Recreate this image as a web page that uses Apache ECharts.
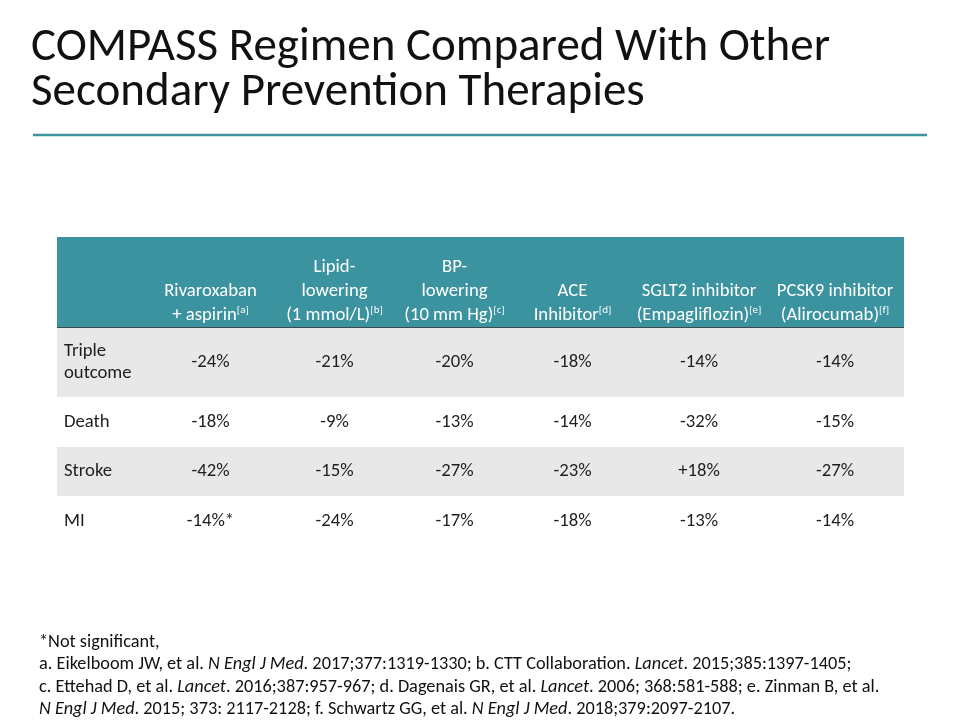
<!DOCTYPE html>
<html><head><meta charset="utf-8">
<script src="https://cdn.jsdelivr.net/npm/echarts@6/dist/echarts.min.js"></script>
<style>html,body{margin:0;padding:0;background:#fff}#c{width:960px;height:720px}</style>
</head><body><div id="c"></div>
<script>
// ---- data ----
const titleLines = ['COMPASS Regimen Compared With Other', 'Secondary Prevention Therapies'];
const therapyHeaders = [
  ['Rivaroxaban', '+ aspirin'],
  ['Lipid-', 'lowering', '(1 mmol/L)'],
  ['BP-', 'lowering', '(10 mm Hg)'],
  ['ACE', 'Inhibitor'],
  ['SGLT2 inhibitor', '(Empagliflozin)'],
  ['PCSK9 inhibitor', '(Alirocumab)']
];
const refLetters = ['a', 'b', 'c', 'd', 'e', 'f'];
const outcomes = ['Triple\noutcome', 'Death', 'Stroke', 'MI'];
const rivaroxaban = [-24, -18, -42, -14];
const lipidLowering = [-21, -9, -15, -24];
const bpLowering = [-20, -13, -27, -17];
const aceInhibitor = [-18, -14, -23, -18];
const sglt2Inhibitor = [-14, -32, 18, -13];
const pcsk9Inhibitor = [-14, -15, -27, -14];
const notSignificant = [[0, 3]]; // [therapy index, outcome index]
const footnoteLines = [
  '*Not significant,',
  'a. Eikelboom JW, et al. {i|N Engl J Med}. 2017;377:1319-1330; b. CTT Collaboration. {i|Lancet}. 2015;385:1397-1405;',
  'c. Ettehad D, et al. {i|Lancet}. 2016;387:957-967; d. Dagenais GR, et al. {i|Lancet}. 2006; 368:581-588; e. Zinman B, et al.',
  '{i|N Engl J Med}. 2015; 373: 2117-2128; f. Schwartz GG, et al. {i|N Engl J Med}. 2018;379:2097-2107.'
];

// ---- layout / style ----
const FONT = 'Carlito, Calibri, Lato, sans-serif';
const TEAL = '#3A939F';
const colWidths = [91, 125, 123, 117, 119, 134, 138];
const rowHeights = [91, 69, 50, 49, 50];
const colEdges = [0]; colWidths.forEach(w => colEdges.push(colEdges[colEdges.length - 1] + w));
const rowEdges = [0]; rowHeights.forEach(h => rowEdges.push(rowEdges[rowEdges.length - 1] + h));
const totalW = colEdges[colEdges.length - 1];
const totalH = rowEdges[rowEdges.length - 1];

const seriesValues = [rivaroxaban, lipidLowering, bpLowering, aceInhibitor, sglt2Inhibitor, pcsk9Inhibitor];
const fmt = (v, ns) => (v > 0 ? '+' : '') + v + '%' + (ns ? '*' : '');

// build cells: value = [x0, y0, x1, y1], plus kind/text
const cells = [];
cells.push({ value: [colEdges[0], rowEdges[0], colEdges[1], rowEdges[1]], kind: 'corner', text: '' });
therapyHeaders.forEach((lines, i) => {
  const txt = lines.map((l, k) => '{n|' + l + '}' + (k === lines.length - 1 ? '{s|[' + refLetters[i] + ']}' : '')).join('\n');
  cells.push({ value: [colEdges[i + 1], rowEdges[0], colEdges[i + 2], rowEdges[1]], kind: 'head', text: txt });
});
outcomes.forEach((o, r) => {
  const shade = r % 2 === 0;
  cells.push({ value: [colEdges[0], rowEdges[r + 1], colEdges[1], rowEdges[r + 2]], kind: 'label', shade, text: o });
  seriesValues.forEach((vals, c) => {
    const ns = notSignificant.some(p => p[0] === c && p[1] === r);
    cells.push({ value: [colEdges[c + 1], rowEdges[r + 1], colEdges[c + 2], rowEdges[r + 2]], kind: 'val', shade, text: fmt(vals[r], ns) });
  });
});

const chart = echarts.init(document.getElementById('c'), null, { renderer: 'canvas' });

function renderItem(params, api) {
  const cell = cells[params.dataIndex];
  const p0 = api.coord([api.value(0), api.value(1)]);
  const p1 = api.coord([api.value(2), api.value(3)]);
  const x = p0[0], y = p0[1], w = p1[0] - p0[0], h = p1[1] - p0[1];
  const children = [];
  if (cell.kind === 'corner' || cell.kind === 'head') {
    children.push({ type: 'rect', shape: { x, y, width: w, height: h }, style: { fill: TEAL } });
    children.push({ type: 'line', shape: { x1: x, y1: y + h, x2: x + w, y2: y + h }, style: { stroke: '#3f4a4c', lineWidth: 2 } });
    if (cell.kind === 'head') {
      children.push({
        type: 'text',
        style: {
          text: cell.text, x: x + w / 2, y: y + h - 1, align: 'center', verticalAlign: 'bottom',
          rich: {
            n: { fontFamily: FONT, fontSize: 18.7, lineHeight: 24, fill: '#ffffff' },
            s: { fontFamily: FONT, fontSize: 11, lineHeight: 24, fill: '#ffffff', verticalAlign: 'top', padding: [2, 0, 0, 0] }
          }
        }
      });
    }
  } else {
    children.push({ type: 'rect', shape: { x, y, width: w, height: h }, style: { fill: cell.shade ? '#E8E8E8' : '#ffffff' } });
    if (cell.kind === 'label') {
      children.push({ type: 'text', style: { text: cell.text, x: x + 7, y: y + h / 2, align: 'left', verticalAlign: 'middle', fontFamily: FONT, fontSize: 18.7, lineHeight: 22, fill: '#1e1e1e' } });
    } else {
      children.push({ type: 'text', style: { text: cell.text, x: x + w / 2, y: y + h / 2, align: 'center', verticalAlign: 'middle', fontFamily: FONT, fontSize: 18.7, lineHeight: 22, fill: '#1e1e1e' } });
    }
  }
  return { type: 'group', children };
}

chart.setOption({
  backgroundColor: '#ffffff',
  animation: false,
  title: {
    text: titleLines.join('\n'),
    left: 31, top: 26, padding: 0,
    textStyle: { fontFamily: FONT, fontSize: 47, fontWeight: 'normal', lineHeight: 45, color: '#111111' }
  },
  grid: { left: 57, top: 237, width: totalW, height: totalH },
  xAxis: { type: 'value', min: 0, max: totalW, show: false },
  yAxis: { type: 'value', min: 0, max: totalH, inverse: true, show: false },
  series: [{
    type: 'custom',
    renderItem,
    data: cells.map(c => c.value),
    silent: true
  }],
  graphic: [
    { type: 'line', shape: { x1: 33, y1: 135, x2: 927, y2: 135 }, style: { stroke: TEAL, lineWidth: 2.5 } },
    {
      type: 'text', x: 39, y: 631,
      style: {
        text: footnoteLines.join('\n'),
        verticalAlign: 'top',
        rich: {
          i: { fontFamily: FONT, fontSize: 18.3, lineHeight: 22.5, fontStyle: 'italic', fill: '#111111' }
        },
        fontFamily: FONT, fontSize: 18.3, lineHeight: 22.5, fill: '#111111'
      }
    }
  ]
});
</script>
</body></html>
